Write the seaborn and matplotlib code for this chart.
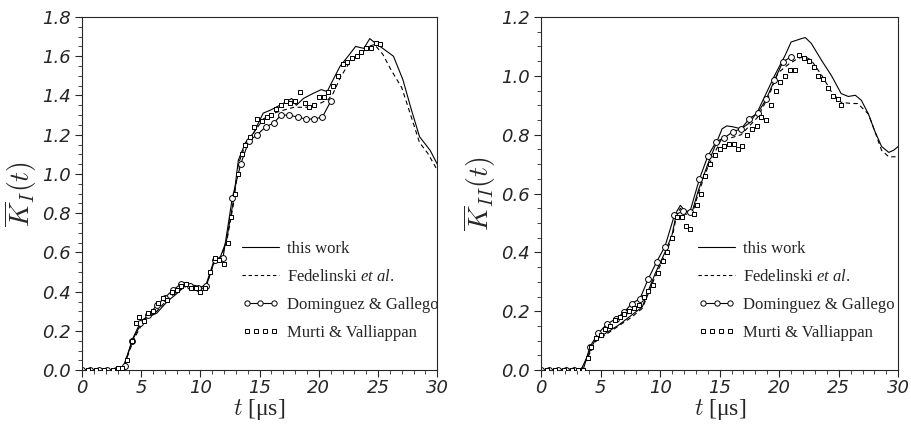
import numpy as np
import pandas as pd
import matplotlib
matplotlib.use("Agg")
import matplotlib.pyplot as plt
import seaborn as sns
from matplotlib.ticker import MultipleLocator, FormatStrFormatter
from matplotlib.lines import Line2D
from matplotlib.legend_handler import HandlerLine2D
from matplotlib.font_manager import FontProperties

# ---------------- data: K_I ----------------
ki_this_t = [0, 3.4, 3.9, 4.4, 5.2, 6.3, 7.2, 8.0, 8.9, 9.6, 10.0, 10.5, 11.1, 11.7, 12.2, 12.8, 13.2, 13.8,
             14.5, 15.3, 15.9, 16.7, 17.3, 17.7, 18.1, 18.7, 19.5, 20.2, 20.7, 21.2, 21.8, 22.6, 23.1, 23.8,
             24.3, 24.7, 25.4, 26.3, 27.1, 27.8, 28.5, 29.4, 30.0]
ki_this_v = [0, 0, 0.09, 0.17, 0.26, 0.29, 0.35, 0.39, 0.44, 0.43, 0.42, 0.44, 0.55, 0.58, 0.66, 0.87, 1.07, 1.16,
             1.21, 1.31, 1.325, 1.35, 1.37, 1.385, 1.35, 1.385, 1.41, 1.43, 1.42, 1.48, 1.55, 1.61, 1.65, 1.64,
             1.69, 1.67, 1.64, 1.60, 1.48, 1.33, 1.19, 1.12, 1.05]
ki_fed_t = [0, 3.4, 3.9, 4.4, 5.2, 6.3, 7.2, 8.0, 8.9, 9.6, 10.0, 10.5, 11.1, 11.7, 12.2, 12.8, 13.2, 13.8,
            14.5, 15.3, 16.2, 17.0, 17.9, 19.0, 20.1, 20.8, 21.2, 21.8, 22.6, 23.5, 24.2, 24.7, 25.4, 26.1,
            27.0, 27.7, 28.5, 29.2, 30.0]
ki_fed_v = [0, 0, 0.08, 0.16, 0.25, 0.30, 0.36, 0.40, 0.43, 0.43, 0.41, 0.43, 0.54, 0.57, 0.65, 0.85, 1.05, 1.15,
            1.21, 1.28, 1.31, 1.325, 1.34, 1.34, 1.36, 1.38, 1.41, 1.49, 1.57, 1.61, 1.65, 1.66, 1.61, 1.53,
            1.44, 1.31, 1.16, 1.105, 1.02]
ki_dom_t = [0, 0.7, 1.4, 2.1, 2.9, 3.6, 4.2, 4.9, 5.6, 6.3, 7.0, 7.7, 8.4, 9.1, 9.8, 10.5, 11.2, 11.9, 12.7,
            13.4, 14.1, 14.8, 15.5, 16.2, 16.8, 17.5, 18.2, 18.9, 19.6, 20.3, 21.0]
ki_dom_v = [0, 0, 0, 0, 0, 0.02, 0.15, 0.24, 0.28, 0.33, 0.37, 0.41, 0.44, 0.43, 0.42, 0.43, 0.56, 0.57, 0.88,
            1.05, 1.17, 1.20, 1.24, 1.26, 1.30, 1.30, 1.29, 1.28, 1.28, 1.29, 1.37]
ki_mur_t = [0.5, 1.2, 1.9, 2.6, 3.0, 3.4, 3.8, 4.2, 4.6, 4.8, 5.2, 5.6, 6.0, 6.4, 6.8, 7.2, 7.6, 8.0, 8.4, 8.8,
            9.2, 9.6, 10.0, 10.4, 10.8, 11.2, 11.6, 12.0, 12.3, 12.6, 12.9, 13.2, 13.5, 13.8, 14.2, 14.5, 14.8,
            15.2, 15.6, 16.0, 16.4, 16.8, 17.2, 17.6, 18.0, 18.4, 18.8, 19.2, 19.6, 20.0, 20.4, 20.8, 21.2,
            21.6, 22.0, 22.4, 22.8, 23.2, 23.6, 24.0, 24.4, 24.8, 25.2]
ki_mur_v = [0, 0, 0, 0, 0.01, 0.01, 0.05, 0.15, 0.24, 0.27, 0.25, 0.29, 0.30, 0.34, 0.37, 0.36, 0.40, 0.41, 0.43,
            0.44, 0.42, 0.42, 0.40, 0.42, 0.50, 0.57, 0.56, 0.54, 0.65, 0.78, 0.90, 1.00, 1.10, 1.15, 1.19, 1.24,
            1.28, 1.27, 1.29, 1.30, 1.33, 1.35, 1.37, 1.36, 1.37, 1.42, 1.36, 1.34, 1.35, 1.39, 1.39, 1.42, 1.45,
            1.50, 1.56, 1.57, 1.59, 1.60, 1.62, 1.64, 1.64, 1.67, 1.66]

# ---------------- data: K_II ----------------
kii_this_t = [0, 3.4, 4.0, 4.5, 5.4, 6.5, 7.6, 8.5, 9.0, 9.6, 10.4, 11.0, 11.4, 11.7, 12.1, 12.7, 13.2, 14.0,
              14.6, 15.2, 15.6, 16.1, 16.8, 17.5, 18.2, 18.9, 19.6, 20.5, 21.0, 21.9, 22.2, 22.7, 23.6, 24.4,
              25.2, 25.8, 26.4, 26.9, 27.5, 28.0, 28.6, 29.2, 29.6, 30.0]
kii_this_v = [0, 0.005, 0.057, 0.10, 0.125, 0.153, 0.187, 0.215, 0.27, 0.33, 0.40, 0.46, 0.54, 0.56, 0.54, 0.54,
              0.61, 0.70, 0.76, 0.82, 0.83, 0.827, 0.82, 0.84, 0.88, 0.94, 1.00, 1.07, 1.115, 1.127, 1.13, 1.11,
              1.05, 1.00, 0.94, 0.93, 0.934, 0.917, 0.87, 0.815, 0.76, 0.74, 0.747, 0.76]
kii_fed_t = [0, 3.4, 4.0, 4.5, 5.4, 6.5, 7.6, 8.5, 9.0, 9.6, 10.4, 11.0, 11.4, 11.7, 12.1, 12.7, 13.2, 14.0,
             14.6, 15.2, 16.0, 16.8, 17.5, 18.2, 19.1, 19.9, 20.8, 21.6, 22.2, 22.7, 23.6, 24.4, 25.2, 26.1,
             26.6, 27.5, 28.0, 28.6, 29.2, 30.0]
kii_fed_v = [0, 0.005, 0.05, 0.095, 0.12, 0.15, 0.18, 0.21, 0.26, 0.32, 0.39, 0.45, 0.53, 0.55, 0.53, 0.53,
             0.60, 0.69, 0.74, 0.79, 0.79, 0.80, 0.83, 0.86, 0.93, 1.01, 1.04, 1.06, 1.065, 1.053, 1.00, 0.945,
             0.91, 0.906, 0.906, 0.87, 0.815, 0.747, 0.725, 0.725]
kii_dom_t = [0, 0.7, 1.4, 2.1, 2.8, 3.4, 4.1, 4.8, 5.5, 6.3, 7.0, 7.6, 8.3, 9.0, 9.7, 10.4, 11.2, 11.9, 12.5,
             13.3, 14.0, 14.7, 15.4, 16.1, 16.8, 17.5, 18.2, 18.9, 19.6, 20.3, 21.0]
kii_dom_v = [0, 0, 0, 0, 0, -0.017, 0.08, 0.125, 0.156, 0.175, 0.198, 0.226, 0.243, 0.31, 0.368, 0.42, 0.527,
             0.54, 0.538, 0.65, 0.727, 0.776, 0.79, 0.81, 0.82, 0.855, 0.874, 0.92, 0.985, 1.047, 1.065]
kii_mur_t = [0.5, 1.2, 1.9, 2.6, 3.1, 3.5, 3.9, 4.2, 4.6, 5.0, 5.4, 5.8, 6.2, 6.6, 7.0, 7.4, 7.8, 8.2, 8.6, 9.0,
             9.4, 9.8, 10.2, 10.6, 11.0, 11.4, 11.8, 12.2, 12.5, 12.8, 13.1, 13.4, 13.8, 14.2, 14.6, 15.0, 15.4,
             15.8, 16.2, 16.5, 16.9, 17.3, 17.7, 18.1, 18.5, 18.9, 19.3, 19.7, 20.1, 20.5, 20.9, 21.3, 21.7,
             22.1, 22.5, 22.9, 23.3, 23.7, 24.1, 24.5, 24.9, 25.2]
kii_mur_v = [0, 0, 0, 0, 0, 0.0, 0.04, 0.08, 0.11, 0.12, 0.14, 0.15, 0.17, 0.18, 0.19, 0.20, 0.21, 0.22, 0.25,
             0.27, 0.29, 0.33, 0.37, 0.40, 0.45, 0.52, 0.52, 0.49, 0.48, 0.53, 0.56, 0.60, 0.66, 0.70, 0.73, 0.75,
             0.76, 0.77, 0.77, 0.75, 0.76, 0.80, 0.82, 0.83, 0.86, 0.85, 0.90, 0.95, 0.98, 1.00, 1.02, 1.02,
             1.07, 1.06, 1.05, 1.03, 1.00, 0.99, 0.96, 0.93, 0.92, 0.90]

labels = ["this work", "Fedelinski $et\\ al.$", "Dominguez & Gallego", "Murti & Valliappan"]

sns.set_style("ticks")
plt.rcParams["font.family"] = ["Liberation Serif", "DejaVu Serif"]
plt.rcParams["mathtext.fontset"] = "custom"
plt.rcParams["mathtext.rm"] = "Liberation Serif"
plt.rcParams["mathtext.it"] = "Liberation Serif:italic"
plt.rcParams["mathtext.bf"] = "Liberation Serif:bold"

fig = plt.figure(figsize=(9.11, 4.25), dpi=100)
ax1 = fig.add_axes([0.090, 0.129, 0.390, 0.831])
ax2 = fig.add_axes([0.594, 0.129, 0.392, 0.831])


def draw(ax, this_t, this_v, fed_t, fed_v, dom_t, dom_v, mur_t, mur_v, ymax, ylabel, leg_x):
    sns.lineplot(x=this_t, y=this_v, ax=ax, color="black", lw=0.8, sort=False)
    sns.lineplot(x=fed_t, y=fed_v, ax=ax, color="black", lw=0.8, ls=(0, (4, 3)), sort=False)
    sns.lineplot(x=dom_t, y=dom_v, ax=ax, color="black", lw=0.8, marker="o", markersize=4.2,
                 markerfacecolor="white", markeredgecolor="black", markeredgewidth=0.7, sort=False)
    sns.scatterplot(x=mur_t, y=mur_v, ax=ax, marker="s", s=6, facecolor="white",
                    edgecolor="black", linewidth=0.7, zorder=3)
    ax.set_xlim(0, 30)
    ax.set_ylim(0, ymax)
    ax.xaxis.set_major_locator(MultipleLocator(5))
    ax.xaxis.set_minor_locator(MultipleLocator(1))
    ax.yaxis.set_major_locator(MultipleLocator(0.2))
    ax.yaxis.set_minor_locator(MultipleLocator(0.05))
    ax.yaxis.set_major_formatter(FormatStrFormatter("%.1f"))
    ax.tick_params(which="both", direction="out", top=False, right=False)
    ax.tick_params(which="major", length=5, width=0.8, pad=3)
    ax.tick_params(axis="x", which="major", pad=1.5)
    ax.tick_params(which="minor", length=3, width=0.6)
    for lab in ax.get_xticklabels() + ax.get_yticklabels():
        lab.set_fontstyle("italic")
        lab.set_fontfamily("DejaVu Sans")
        lab.set_fontsize(13)
    for sp in ax.spines.values():
        sp.set_linewidth(0.8)
        sp.set_visible(True)
    ax.set_xlabel("$t$ [μs]", fontsize=17, labelpad=0, math_fontfamily="cm")
    ax.set_ylabel(ylabel, fontsize=20, labelpad=2, math_fontfamily="cm")

    handles = [
        Line2D([], [], color="black", lw=0.8),
        Line2D([], [], color="black", lw=0.8, ls=(0, (3, 2.5))),
        Line2D([], [], color="black", lw=0.8, marker="o", markersize=3.8, markerfacecolor="white",
               markeredgewidth=0.7),
        Line2D([], [], color="black", lw=0, marker="s", markersize=3.2, markerfacecolor="white",
               markeredgewidth=0.7),
    ]
    hmap = {handles[2]: HandlerLine2D(numpoints=3), handles[3]: HandlerLine2D(numpoints=4)}
    prop = FontProperties(family="Liberation Serif", size=12, math_fontfamily="custom")
    ax.legend(handles, labels, handler_map=hmap, loc="upper left", bbox_to_anchor=(leg_x, 0.365),
              frameon=False, prop=prop,
              handlelength=2.2, handletextpad=0.5, labelspacing=0.72, borderaxespad=0, borderpad=0)


draw(ax1, ki_this_t, ki_this_v, ki_fed_t, ki_fed_v, ki_dom_t, ki_dom_v, ki_mur_t, ki_mur_v, 1.8,
     "$\\overline{K}_{I}(t)$", 0.45)
draw(ax2, kii_this_t, kii_this_v, kii_fed_t, kii_fed_v, kii_dom_t, kii_dom_v, kii_mur_t, kii_mur_v, 1.2,
     "$\\overline{K}_{II}(t)$", 0.44)

fig.savefig("out.png", dpi=100)
